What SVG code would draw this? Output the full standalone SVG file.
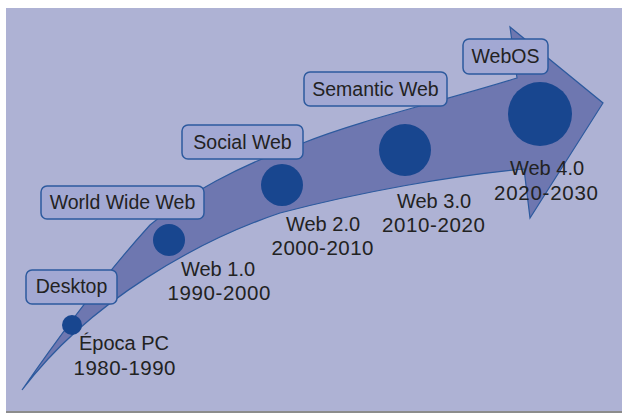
<svg xmlns="http://www.w3.org/2000/svg" width="622" height="414" viewBox="0 0 622 414">
<style>
text{font-family:"Liberation Sans",Arial,sans-serif;fill:#222;text-anchor:middle}
.box rect{fill:#a2a8d3;stroke:#2d5a9e;stroke-width:1.5}
.box text{font-size:19.5px}
.lbl{font-size:20px}
.yr{font-size:20.5px}
.dot{fill:#18468f}
</style>
<rect x="0" y="0" width="622" height="414" fill="#ffffff"/>
<rect x="6" y="10" width="616" height="403" fill="#8c8c8c"/>
<rect x="6" y="8" width="616" height="403" fill="#aeb2d4"/>
<g id="connectors">
<path id="arrow" d="M22,390 C60,335 100,280 150,225 C185,195 240,165 303,143 C360,120 440,102 517,78 L510,27 L603,103 L530,218 L524,169 C450,176 360,192 280,213 C200,240 90,300 22,390 Z" fill="#6e77b0" stroke="#2d5a9e" stroke-width="1.2" stroke-linejoin="miter"/>
</g>
<g id="epoca-pc">
<circle class="dot" cx="72" cy="325" r="10"/>
<text class="lbl" x="124" y="350">Época PC</text>
<text class="lbl yr" x="124.5" y="375" textLength="102" lengthAdjust="spacing">1980-1990</text>
</g>
<g id="web1">
<circle class="dot" cx="169" cy="240" r="16"/>
<text class="lbl" x="218" y="276">Web 1.0</text>
<text class="lbl yr" x="219" y="300" textLength="103" lengthAdjust="spacing">1990-2000</text>
</g>
<g id="web2">
<circle class="dot" cx="282" cy="185" r="21"/>
<text class="lbl" x="323" y="231">Web 2.0</text>
<text class="lbl yr" x="322.5" y="255" textLength="102" lengthAdjust="spacing">2000-2010</text>
</g>
<g id="web3">
<circle class="dot" cx="405" cy="150" r="26"/>
<text class="lbl" x="434" y="208">Web 3.0</text>
<text class="lbl yr" x="433.5" y="232" textLength="103" lengthAdjust="spacing">2010-2020</text>
</g>
<g id="web4">
<circle class="dot" cx="540" cy="114" r="32"/>
<text class="lbl" x="547" y="175">Web 4.0</text>
<text class="lbl yr" x="546" y="200" textLength="104" lengthAdjust="spacing">2020-2030</text>
</g>
<g id="desktop" class="box">
<rect x="26" y="270" width="91" height="34" rx="6"/>
<text x="71.5" y="293">Desktop</text>
</g>
<g id="www" class="box">
<rect x="41" y="186" width="163" height="33" rx="6"/>
<text x="122.5" y="209">World Wide Web</text>
</g>
<g id="social" class="box">
<rect x="182" y="125" width="121" height="34" rx="6"/>
<text x="242.5" y="149">Social Web</text>
</g>
<g id="semantic" class="box">
<rect x="304" y="72" width="143" height="34" rx="6"/>
<text x="375.5" y="96">Semantic Web</text>
</g>
<g id="webos" class="box">
<rect x="463" y="39" width="85" height="35" rx="6"/>
<text x="505.5" y="63">WebOS</text>
</g>
</svg>
